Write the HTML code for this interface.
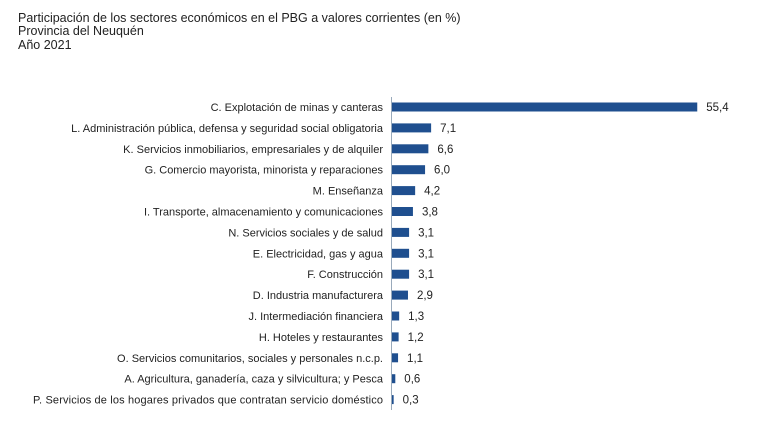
<!DOCTYPE html>
<html><head><meta charset="utf-8"><style>
body{margin:0;background:#fff;}
svg{display:block;font-family:"Liberation Sans",Arial,sans-serif;}
</style></head><body>
<svg width="770" height="433" viewBox="0 0 770 433">
<g font-size="12.5" fill="#222">
<text x="18" y="22">Participación de los sectores económicos en el PBG a valores corrientes (en %)</text>
<text x="18" y="35">Provincia del Neuquén</text>
<text x="18" y="49">Año 2021</text>
</g>
<line x1="391.5" y1="97" x2="391.5" y2="410" stroke="#9ab" stroke-width="1"/>
<g font-size="11" fill="#222" text-anchor="end" id="labels"></g>
<g id="bars"></g>
<script>
var d=[["C. Explotación de minas y canteras",55.4],["L. Administración pública, defensa y seguridad social obligatoria",7.1],["K. Servicios inmobiliarios, empresariales y de alquiler",6.6],["G. Comercio mayorista, minorista y reparaciones",6.0],["M. Enseñanza",4.2],["I. Transporte, almacenamiento y comunicaciones",3.8],["N. Servicios sociales y de salud",3.1],["E. Electricidad, gas y agua",3.1],["F. Construcción",3.1],["D. Industria manufacturera",2.9],["J. Intermediación financiera",1.3],["H. Hoteles y restaurantes",1.2],["O. Servicios comunitarios, sociales y personales n.c.p.",1.1],["A. Agricultura, ganadería, caza y silvicultura; y Pesca",0.6],["P. Servicios de los hogares privados que contratan servicio doméstico",0.3]];
var ns="http://www.w3.org/2000/svg",L=document.getElementById("labels"),B=document.getElementById("bars");
d.forEach(function(r,i){
 var cy=107+i*20.9,w=r[1]*5.51;
 var t=document.createElementNS(ns,"text");t.setAttribute("x",383);t.setAttribute("y",cy+4);t.textContent=r[0];
 if(i==14){t.setAttribute("textLength",350);}
 L.appendChild(t);
 var b=document.createElementNS(ns,"rect");b.setAttribute("x",392);b.setAttribute("y",cy-4.5);b.setAttribute("width",w);b.setAttribute("height",9);b.setAttribute("fill","#1f4f8f");B.appendChild(b);
 var v=document.createElementNS(ns,"text");v.setAttribute("x",392+w+9);v.setAttribute("y",cy+4);v.setAttribute("font-size","11.5");v.setAttribute("fill","#222");v.textContent=r[1].toFixed(1).replace(".",",");B.appendChild(v);
});
</script>
</svg>
</body></html>
